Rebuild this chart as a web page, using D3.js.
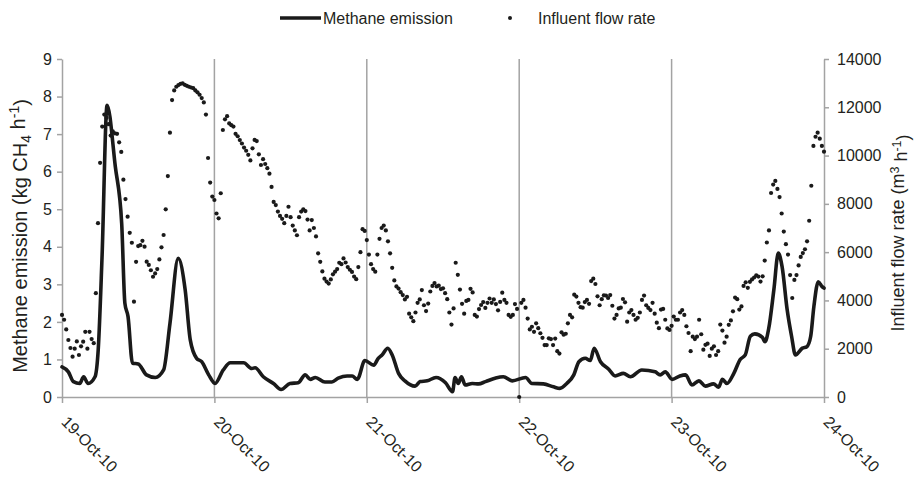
<!DOCTYPE html>
<html>
<head>
<meta charset="utf-8">
<script src="https://cdn.jsdelivr.net/npm/d3@7"></script>
<style>
  html, body { margin: 0; padding: 0; background: #fff; }
  svg { display: block; font-family: "Liberation Sans", Arial, sans-serif; }
</style>
</head>
<body>
<svg id="chart" width="914" height="478"></svg>
<script>
// ---------- DATA ----------
const dayLabels = ["19-Oct-10", "20-Oct-10", "21-Oct-10", "22-Oct-10", "23-Oct-10", "24-Oct-10"];
const leftTicks = [0, 1, 2, 3, 4, 5, 6, 7, 8, 9];
const rightTicks = [0, 2000, 4000, 6000, 8000, 10000, 12000, 14000];

// Methane emission (kg CH4/h), time in hours since 19-Oct-10 00:00
const methaneHours = [0,1.0,1.8,2.8,3.4,4.1,5.2,5.7,6.3,7.1,8.4,9.4,9.9,10.4,11.1,12.0,13.3,14.7,16.0,17.0,18.3,19.4,20.2,21.2,22.0,23.1,24.1,25.4,26.5,28.6,29.9,30.4,31.7,33.3,34.5,35.9,37.2,38.3,39.1,39.9,41.4,42.5,43.5,44.9,45.7,46.5,47.7,49.1,49.8,50.4,51.3,52.0,53.0,54.0,55.6,56.4,57.5,58.9,60.4,61.5,61.9,62.4,62.9,63.5,64.6,65.6,66.7,68.2,69.5,70.9,73.0,74.0,75.8,77.4,78.4,79.5,80.6,81.4,82.4,83.2,83.8,84.8,86.1,87.1,88.4,89.5,91.3,93.4,94.2,95.0,96.1,97.3,98.2,99.2,100.3,101.3,102.6,103.4,104.0,104.7,105.8,106.8,107.6,108.4,109.1,110.3,110.7,111.3,112.1,112.8,113.4,114.2,114.9,115.5,116.6,117.3,117.9,118.4,119.1,119.7,120];
const methaneValues = [0.8,0.67,0.41,0.36,0.54,0.36,0.54,1.25,3.7,7.77,6.13,4.62,2.5,2.14,0.9,0.88,0.59,0.52,0.72,1.96,3.69,2.85,1.52,1.03,0.94,0.59,0.36,0.72,0.91,0.91,0.76,0.78,0.54,0.36,0.2,0.36,0.38,0.59,0.47,0.52,0.4,0.4,0.5,0.56,0.56,0.47,0.97,0.85,1.03,1.12,1.3,1.12,0.63,0.43,0.29,0.41,0.43,0.52,0.38,0.14,0.52,0.36,0.54,0.32,0.36,0.35,0.41,0.5,0.54,0.43,0.52,0.36,0.35,0.27,0.23,0.36,0.59,0.94,1.03,0.97,1.3,0.94,0.74,0.56,0.63,0.54,0.72,0.67,0.59,0.67,0.47,0.56,0.59,0.32,0.43,0.29,0.35,0.26,0.47,0.36,0.63,1.0,1.12,1.62,1.68,1.59,1.47,1.83,2.85,3.83,3.47,2.32,1.61,1.12,1.3,1.34,1.61,2.4,3.07,2.94,2.9];

// Influent flow rate (m3/h), one reading every 20 minutes, per day
const flowDay1 = [3400,3200,2800,2360,2030,1670,2000,2300,1740,2100,2290,2700,2000,2700,2400,2230,4300,7200,9700,11200,11700,11560,11300,10830,11000,10920,10900,10550,10150,9000,8200,7470,6800,6390,3950,5600,6250,6290,6470,6225,5605,5470,5250,4980,5120,5300,5700,6200,6710,7775,9150,10950,12300,12700,12850,12920,12970,12990,12930,12890,12850,12820,12790,12700,12620,12520,12380,12200,11700,9900,8880,8300];
const flowDay2 = [8160,7600,7400,8440,11060,11500,11630,11330,11260,11200,10900,10800,10640,10500,10330,10200,10030,9800,10300,10650,10600,10050,9610,9850,9650,9480,9250,8700,8080,7950,7680,7500,7380,7200,7500,7880,7450,7100,6900,6700,7450,7680,7775,7700,7350,6900,7330,7000,6650,5950,5600,5200,4900,4780,4700,4870,5080,5190,5300,5560,5500,5740,5570,5380,5270,5180,4990,4880,5380,6000,6950,6880];
const flowDay3 = [6500,5900,5500,5300,5190,5900,6550,7000,7100,6900,6450,5950,5350,4830,4580,4490,4340,4220,4040,4150,3450,3300,3140,3500,3900,4040,4430,3800,3560,3870,4370,4600,4720,4580,4610,4470,4500,4300,4050,3500,3000,3670,5560,5060,4450,3860,3450,3980,4020,4480,4330,3400,3330,3640,3810,3930,3690,3900,4080,3900,4040,3850,3590,3940,4320,4020,3900,3400,3320,3400,3850,3650];
const flowDay4 = [0,3900,4020,3700,3250,2800,2910,2700,3050,2850,2640,2450,2150,2150,2430,2400,2150,2420,1900,1800,2680,2580,2620,3050,3400,3300,4240,4160,3900,3720,3700,3930,4020,3860,4800,4900,4680,4170,3800,4050,4210,4200,4100,4220,3780,3250,3400,3670,3700,4060,3920,3120,3500,3600,3400,3200,3280,3500,4020,4200,3800,3690,3600,3900,3450,3080,2850,3620,3650,3200,2840,2780];
const flowDay5 = [2950,3330,3200,3200,3500,3600,3400,2930,2650,1900,2500,2400,2500,3200,2600,1960,2160,2210,1700,2000,2100,1740,1900,3000,2750,2250,2500,2990,3170,3550,4120,4050,3620,3750,4600,4750,4520,4770,4870,4950,5040,4990,4780,5000,5650,6400,6900,8450,8800,8950,8620,8280,7600,6850,6330,5900,5050,4100,4850,5050,5450,5800,5960,6120,6450,7300,8750,10400,10780,10950,10700,10400,10160];
const flowStepMinutes = 20;

// ---------- BUILD ----------
const start = new Date(2010, 9, 19, 0, 0, 0);
const hoursToDate = h => new Date(start.getTime() + h * 3600e3);
const dayDates = dayLabels.map((d, i) => d3.timeDay.offset(start, i));

const methane = methaneHours.map((h, i) => ({ t: hoursToDate(h), v: methaneValues[i] }));
const flow = [];
[flowDay1, flowDay2, flowDay3, flowDay4, flowDay5].forEach((arr, d) => {
  arr.forEach((v, k) => {
    flow.push({ t: hoursToDate(d * 24 + k * flowStepMinutes / 60), v: v });
  });
});

const svg = d3.select("#chart");
const plot = { left: 62, right: 824, top: 59, bottom: 397 };
const axisColor = "#a3a3a3";
const textColor = "#231f20";

const x = d3.scaleTime().domain([dayDates[0], dayDates[dayDates.length - 1]]).range([plot.left, plot.right]);
const yL = d3.scaleLinear().domain([0, 9]).range([plot.bottom, plot.top]);
const yR = d3.scaleLinear().domain([0, 14000]).range([plot.bottom, plot.top]);

// vertical gridlines (day separators)
svg.append("g").selectAll("line")
  .data(dayDates.slice(1, -1))
  .join("line")
  .attr("x1", d => x(d)).attr("x2", d => x(d))
  .attr("y1", plot.top).attr("y2", plot.bottom)
  .attr("stroke", axisColor).attr("stroke-width", 1.5);

// axes
const styleAxis = g => {
  g.selectAll(".domain").attr("stroke", axisColor).attr("stroke-width", 1.5);
  g.selectAll(".tick line").attr("stroke", axisColor).attr("stroke-width", 1.5);
  g.selectAll(".tick text").attr("fill", textColor).attr("font-size", 16)
    .attr("font-family", "'Liberation Sans', Arial, sans-serif");
};

svg.append("g")
  .attr("transform", `translate(${plot.left},0)`)
  .call(d3.axisLeft(yL).tickValues(leftTicks).tickSize(5).tickSizeOuter(0).tickPadding(5).tickFormat(d3.format("d")))
  .call(styleAxis);

svg.append("g")
  .attr("transform", `translate(${plot.right},0)`)
  .call(d3.axisRight(yR).tickValues(rightTicks).tickSize(5).tickSizeOuter(0).tickPadding(8).tickFormat(d3.format("d")))
  .call(styleAxis);

const xAxis = svg.append("g")
  .attr("transform", `translate(0,${plot.bottom})`)
  .call(d3.axisBottom(x).tickValues(dayDates).tickSize(6).tickSizeOuter(0).tickFormat((d, i) => dayLabels[i]))
  .call(styleAxis);
xAxis.selectAll(".tick text")
  .attr("text-anchor", "start")
  .attr("font-size", 16)
  .attr("x", 0).attr("y", 0).attr("dy", 0)
  .attr("transform", "translate(-2,26) rotate(45)");

// flow dots
svg.append("g").selectAll("circle")
  .data(flow)
  .join("circle")
  .attr("cx", d => x(d.t))
  .attr("cy", d => yR(d.v))
  .attr("r", 2.1)
  .attr("fill", "#1a1a1a");

// methane line
const line = d3.line().x(d => x(d.t)).y(d => yL(d.v)).curve(d3.curveMonotoneX);
svg.append("path")
  .datum(methane)
  .attr("d", line)
  .attr("fill", "none")
  .attr("stroke", "#1a1a1a")
  .attr("stroke-width", 3.6)
  .attr("stroke-linejoin", "round")
  .attr("stroke-linecap", "round");

// axis titles
const leftTitle = svg.append("text")
  .attr("transform", `translate(20,236) rotate(-90)`)
  .attr("text-anchor", "middle").attr("dy", "0.35em")
  .attr("font-size", 20).attr("fill", textColor);
leftTitle.append("tspan").text("Methane emission (kg CH");
leftTitle.append("tspan").attr("font-size", 14).attr("dy", "0.3em").text("4");
leftTitle.append("tspan").attr("dy", "-0.3em").text(" h");
leftTitle.append("tspan").attr("font-size", 14).attr("dy", "-0.45em").text("-1");
leftTitle.append("tspan").attr("dy", "0.45em").text(")");

const rightTitle = svg.append("text")
  .attr("transform", `translate(898,233) rotate(-90)`)
  .attr("text-anchor", "middle").attr("dy", "0.35em")
  .attr("font-size", 18).attr("fill", textColor);
rightTitle.append("tspan").text("Influent flow rate (m");
rightTitle.append("tspan").attr("font-size", 12.5).attr("dy", "-0.45em").text("3");
rightTitle.append("tspan").attr("dy", "0.45em").text(" h");
rightTitle.append("tspan").attr("font-size", 12.5).attr("dy", "-0.45em").text("-1");
rightTitle.append("tspan").attr("dy", "0.45em").text(")");

// legend
const legend = svg.append("g");
legend.append("line").attr("x1", 280).attr("x2", 321).attr("y1", 18).attr("y2", 18)
  .attr("stroke", "#1a1a1a").attr("stroke-width", 3.5);
legend.append("text").attr("x", 323).attr("y", 24).attr("font-size", 16).attr("fill", textColor).text("Methane emission");
legend.append("circle").attr("cx", 510).attr("cy", 18).attr("r", 2).attr("fill", "#1a1a1a");
legend.append("text").attr("x", 538).attr("y", 24).attr("font-size", 16).attr("fill", textColor).text("Influent flow rate");
</script>
</body>
</html>
